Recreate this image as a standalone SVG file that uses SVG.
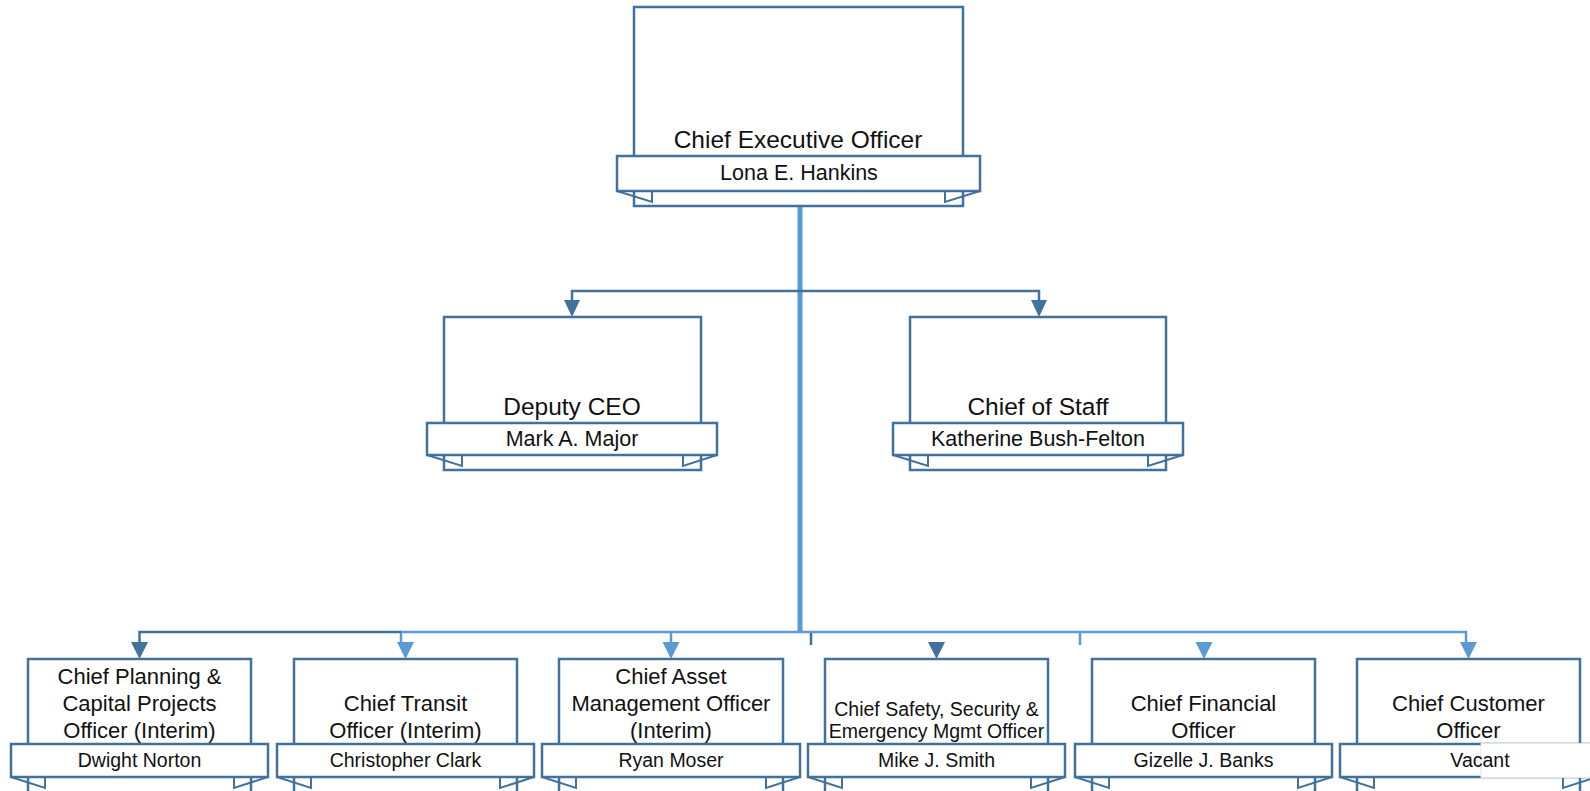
<svg xmlns="http://www.w3.org/2000/svg" width="1590" height="791" viewBox="0 0 1590 791">
<style>
.box{fill:#fff;stroke:#41719c;stroke-width:2.5}
.ban{fill:#fff;stroke:#41719c;stroke-width:2.5}
.tail{fill:none;stroke:#41719c;stroke-width:2;stroke-linejoin:miter}
.t{font-family:"Liberation Sans",Arial,sans-serif;fill:#111;text-anchor:middle}
.tt{font-size:24.5px}
.tn{font-size:21.5px}
.bt{font-size:22px}
.bs{font-size:19.5px}
.bn{font-size:19.5px}
.cd{fill:none;stroke:#41719c;stroke-width:2.5}
.cl{fill:none;stroke:#5b9bd5;stroke-width:2.5}
.ad{fill:#41719c}
.al{fill:#5b9bd5}
</style>
<rect width="1590" height="791" fill="#fff"/>
<g id="connectors">
<line x1="800" y1="206" x2="800" y2="633" stroke="#5b9bd5" stroke-width="5"/>
<polyline class="cd" points="572,301 572,291 1039,291 1039,301"/>
<polygon class="ad" points="564,300 580,300 572,317"/>
<polygon class="ad" points="1031,300 1047,300 1039,317"/>
<polyline class="cl" points="401,643 401,632 1466,632 1466,643"/>
<polyline class="cd" points="139.5,643 139.5,632 401,632"/>
<line class="cl" x1="671" y1="632" x2="671" y2="643"/>
<line class="cd" x1="811" y1="633" x2="811" y2="645"/>
<line class="cl" x1="1080" y1="633" x2="1080" y2="645"/>
<polygon class="ad" points="131,642 148,642 139.5,659"/>
<polygon class="al" points="397,642 414,642 405.5,659"/>
<polygon class="al" points="662.5,642 679.5,642 671,659"/>
<polygon class="ad" points="928,642 945,642 936.5,659"/>
<polygon class="al" points="1195.5,642 1212.5,642 1204,659"/>
<polygon class="al" points="1460,642 1477,642 1468.5,659"/>
</g>
<g id="ceo">
<rect class="box" x="634" y="7" width="329" height="199"/>
<polyline class="tail" points="617,191 652,202 652,191"/>
<polyline class="tail" points="980,191 945,202 945,191"/>
<rect class="ban" x="617" y="156" width="363" height="35"/>
<text class="t tt" x="798" y="148">Chief Executive Officer</text>
<text class="t tn" x="799" y="180">Lona E. Hankins</text>
</g>
<g id="deputy">
<rect class="box" x="444" y="317" width="257" height="153"/>
<polyline class="tail" points="427,455 462,466 462,455"/>
<polyline class="tail" points="717,455 683,466 683,455"/>
<rect class="ban" x="427" y="423" width="290" height="32"/>
<text class="t tt" x="572" y="415">Deputy CEO</text>
<text class="t tn" x="572" y="446">Mark A. Major</text>
</g>
<g id="staff">
<rect class="box" x="910" y="317" width="256" height="153"/>
<polyline class="tail" points="893,455 928,466 928,455"/>
<polyline class="tail" points="1183,455 1148,466 1148,455"/>
<rect class="ban" x="893" y="423" width="290" height="32"/>
<text class="t tt" x="1038" y="415">Chief of Staff</text>
<text class="t tn" x="1038" y="446">Katherine Bush-Felton</text>
</g>
<g id="planning">
<rect class="box" x="28" y="659" width="223" height="140"/>
<polyline class="tail" points="11,777 45,788 45,777"/>
<polyline class="tail" points="268,777 234,788 234,777"/>
<rect class="ban" x="11" y="744" width="257" height="33"/>
<text class="t bt" x="139.5" y="684">Chief Planning &amp;</text>
<text class="t bt" x="139.5" y="711">Capital Projects</text>
<text class="t bt" x="139.5" y="738">Officer (Interim)</text>
<text class="t bn" x="139.5" y="767">Dwight Norton</text>
</g>
<g id="transit">
<rect class="box" x="294" y="659" width="223" height="140"/>
<polyline class="tail" points="277,777 311,788 311,777"/>
<polyline class="tail" points="534,777 500,788 500,777"/>
<rect class="ban" x="277" y="744" width="257" height="33"/>
<text class="t bt" x="405.5" y="711">Chief Transit</text>
<text class="t bt" x="405.5" y="738">Officer (Interim)</text>
<text class="t bn" x="405.5" y="767">Christopher Clark</text>
</g>
<g id="asset">
<rect class="box" x="559" y="659" width="224" height="140"/>
<polyline class="tail" points="542,777 576,788 576,777"/>
<polyline class="tail" points="800,777 766,788 766,777"/>
<rect class="ban" x="542" y="744" width="258" height="33"/>
<text class="t bt" x="671" y="684">Chief Asset</text>
<text class="t bt" x="671" y="711">Management Officer</text>
<text class="t bt" x="671" y="738">(Interim)</text>
<text class="t bn" x="671" y="767">Ryan Moser</text>
</g>
<g id="safety">
<rect class="box" x="825" y="659" width="223" height="140"/>
<polyline class="tail" points="808,777 842,788 842,777"/>
<polyline class="tail" points="1065,777 1031,788 1031,777"/>
<rect class="ban" x="808" y="744" width="257" height="33"/>
<text class="t bs" x="936.5" y="716">Chief Safety, Security &amp;</text>
<text class="t bs" x="936.5" y="738">Emergency Mgmt Officer</text>
<text class="t bn" x="936.5" y="767">Mike J. Smith</text>
</g>
<g id="financial">
<rect class="box" x="1092" y="659" width="223" height="140"/>
<polyline class="tail" points="1075,777 1109,788 1109,777"/>
<polyline class="tail" points="1332,777 1298,788 1298,777"/>
<rect class="ban" x="1075" y="744" width="257" height="33"/>
<text class="t bt" x="1203.5" y="711">Chief Financial</text>
<text class="t bt" x="1203.5" y="738">Officer</text>
<text class="t bn" x="1203.5" y="767">Gizelle J. Banks</text>
</g>
<g id="customer">
<rect class="box" x="1357" y="659" width="223" height="140"/>
<polyline class="tail" points="1340,777 1374,788 1374,777"/>
<polyline class="tail" points="1597,777 1563,788 1563,777"/>
<rect class="ban" x="1340" y="744" width="257" height="33"/>
<rect x="1481" y="743.5" width="120" height="34" fill="#fff" stroke="#dfe6ee" stroke-width="1"/>
<text class="t bt" x="1468.5" y="711">Chief Customer</text>
<text class="t bt" x="1468.5" y="738">Officer</text>
<text class="t bn" x="1480" y="767">Vacant</text>
</g>
</svg>
